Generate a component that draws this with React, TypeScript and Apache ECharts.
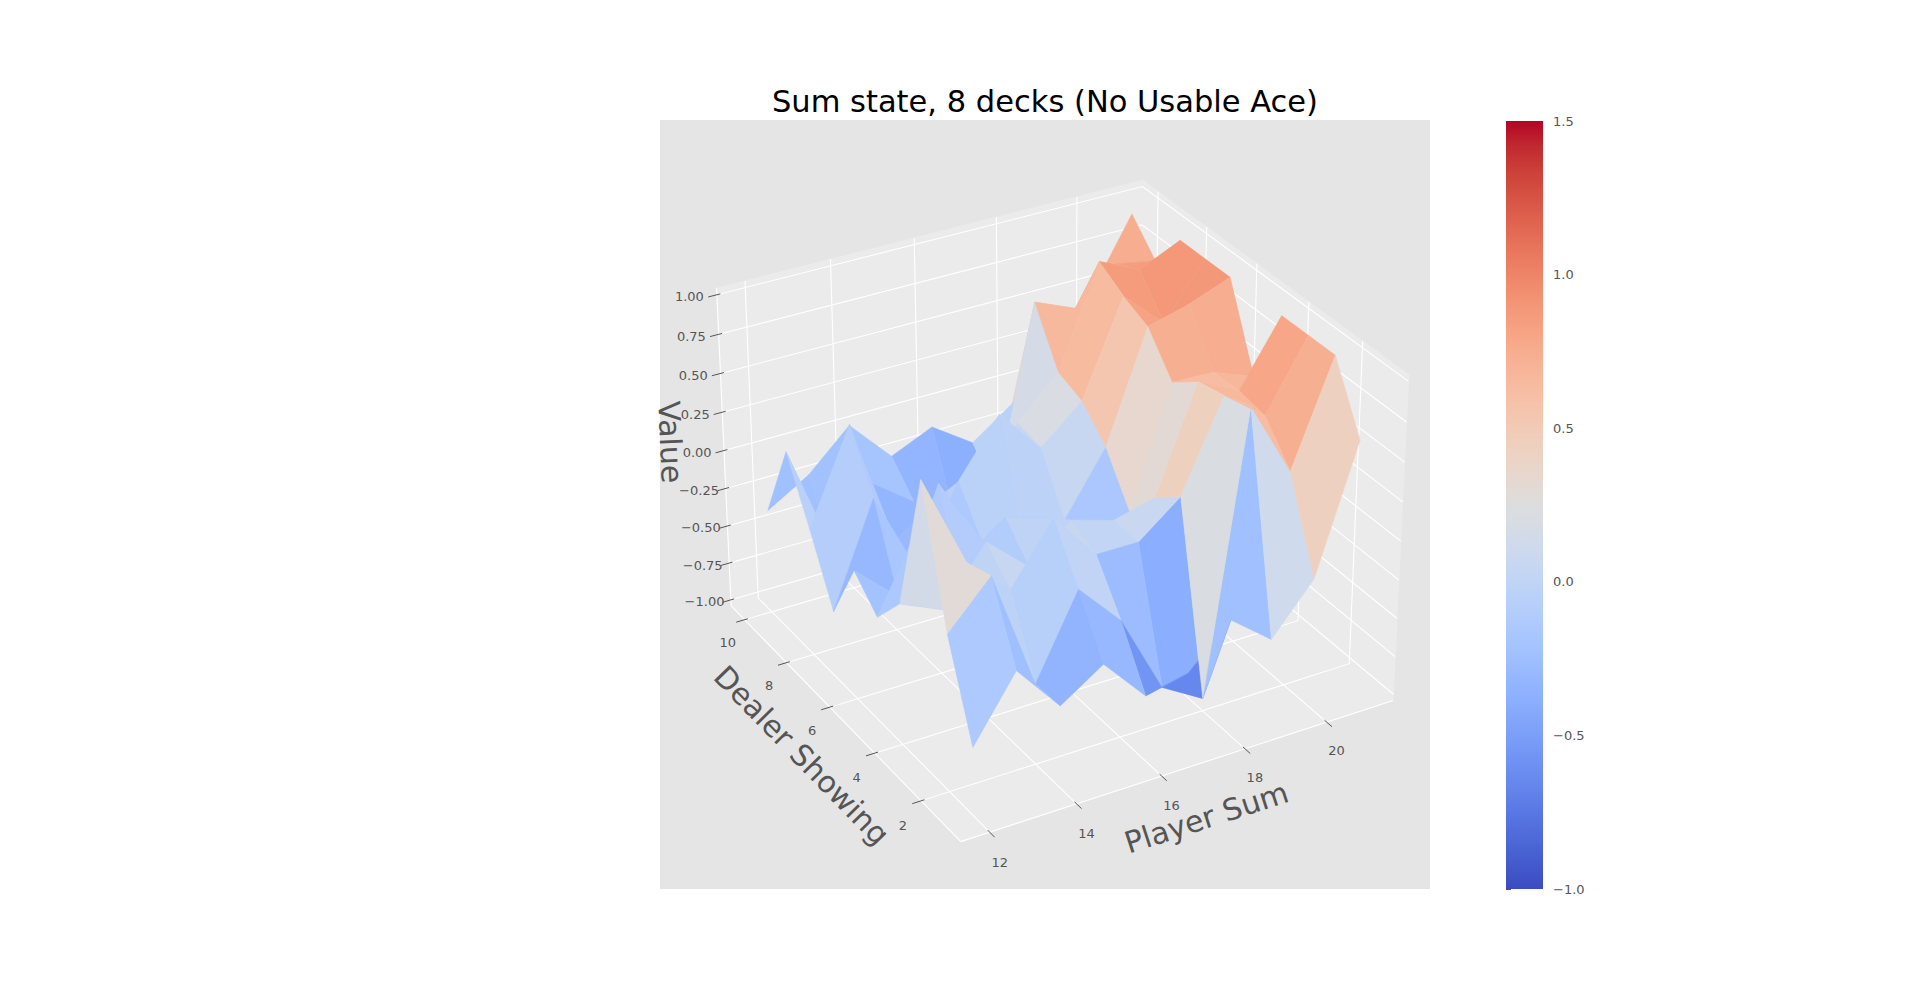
import React, { useEffect, useRef } from "react";
import * as echarts from "echarts";

const TITLE = "Sum state, 8 decks (No Usable Ace)";
const X_NAME = "Player Sum";
const Y_NAME = "Dealer Showing";
const Z_NAME = "Value";

const PLAYER_SUMS = [12, 13, 14, 15, 16, 17, 18, 19, 20, 21];
const DEALER_CARDS = [1, 2, 3, 4, 5, 6, 7, 8, 9, 10];
// state values: one row per dealer card, one column per player sum
const VALUES = [
  [-0.6, -0.2, -0.51, -0.33, -0.62, -0.56, -0.3, -0.51, -0.2, 0.6],
  [-0.03, 0.25, -0.52, 0.0, -0.28, -0.8, -0.96, 0.83, 0.35, 1.0],
  [0.78, 0.19, -0.06, 0.31, 0.0, 0.0, 0.21, 0.77, 0.57, 1.0],
  [-0.13, -0.25, 0.1, -0.14, 0.08, 0.0, 0.07, 0.73, 0.6, 1.0],
  [-0.36, 0.15, -0.4, 0.04, -0.04, -0.35, -0.16, 0.6, 0.59, 0.49],
  [-0.2, -0.45, 0.2, -0.25, -0.3, -0.27, 0.13, 0.83, 0.9, 1.0],
  [-0.61, 0.05, -0.5, 0.0, 0.36, 0.07, 0.3, 0.9, 0.66, 1.0],
  [-0.21, 0.39, -0.45, -0.25, -0.35, 0.1, 0.36, 1.0, 0.88, 1.0],
  [0.16, -0.55, -0.2, -0.4, -0.6, -0.5, 0.69, 0.58, 0.8, 0.75],
  [-0.36, -0.2, 0.05, -0.23, -0.11, -0.29, -0.1, 0.3, 0.5, 0.94],
];

const PLAYER_TICKS = [12, 14, 16, 18, 20];
const DEALER_TICKS = [2, 4, 6, 8, 10];
const VALUE_TICKS = [-1, -0.75, -0.5, -0.25, 0, 0.25, 0.5, 0.75, 1];
const COLOR_MIN = -1;
const COLOR_MAX = 1.5;
const COLOR_STEP = 0.5;

// matplotlib coolwarm, 33 samples
const COOLWARM = [
  [59, 76, 192], [68, 90, 204], [77, 104, 215], [87, 117, 225], [98, 130, 234],
  [108, 142, 241], [119, 154, 247], [130, 165, 251], [141, 176, 254], [152, 185, 255],
  [163, 194, 255], [174, 201, 253], [184, 208, 249], [194, 213, 244], [204, 217, 238],
  [213, 219, 230], [221, 221, 221], [229, 216, 209], [236, 211, 197], [241, 204, 185],
  [245, 196, 173], [247, 187, 160], [247, 177, 148], [247, 166, 135], [244, 154, 123],
  [241, 141, 111], [236, 127, 99], [229, 112, 88], [222, 96, 77], [213, 80, 66],
  [203, 62, 56], [192, 40, 47], [180, 4, 38],
];

const coolwarm = (t: number) => {
  const s = Math.min(1, Math.max(0, t)) * (COOLWARM.length - 1);
  const i = Math.min(COOLWARM.length - 2, Math.floor(s));
  const f = s - i;
  const c = COOLWARM[i].map((v, k) => Math.round(v + (COOLWARM[i + 1][k] - v) * f));
  return `rgb(${c[0]},${c[1]},${c[2]})`;
};

// 3d view, same maths as matplotlib's mplot3d
const ELEV = 30;
const AZIM = -120;
const DIST = 10;
const X_LIM = [11.55, 21.45];
const Y_LIM = [0.55, 10.45];
const Z_LIM = [-1, 1];
const ASPECT = [4, 4, 3].map((v) => v / 3.5);

const padded = (lim: number[]) => {
  const d = (lim[1] - lim[0]) / 48;
  return [lim[0] - d, lim[1] + d];
};
const X_BOX = padded(X_LIM);
const Y_BOX = padded(Y_LIM);
const Z_BOX = padded(Z_LIM);

const RAD = Math.PI / 180;
const EYE = [
  Math.cos(ELEV * RAD) * Math.cos(AZIM * RAD),
  Math.cos(ELEV * RAD) * Math.sin(AZIM * RAD),
  Math.sin(ELEV * RAD),
];
const ULEN = Math.hypot(EYE[0], EYE[1]);
const U = [-EYE[1] / ULEN, EYE[0] / ULEN, 0];
const V = [
  EYE[1] * U[2] - EYE[2] * U[1],
  EYE[2] * U[0] - EYE[0] * U[2],
  EYE[0] * U[1] - EYE[1] * U[0],
];
const dot = (a: number[], b: number[]) => a[0] * b[0] + a[1] * b[1] + a[2] * b[2];

const project = (x: number, y: number, z: number) => {
  const p = [
    ((x - X_LIM[0]) / (X_LIM[1] - X_LIM[0]) - 0.5) * ASPECT[0],
    ((y - Y_LIM[0]) / (Y_LIM[1] - Y_LIM[0]) - 0.5) * ASPECT[1],
    ((z - Z_LIM[0]) / (Z_LIM[1] - Z_LIM[0]) - 0.5) * ASPECT[2],
  ];
  const depth = DIST - dot(EYE, p);
  return [dot(U, p) / depth, dot(V, p) / depth, depth];
};

// projected window shown by the hidden 2d axes
const VIEW_X = [-0.0951923, 0.0899038];
const VIEW_Y = [-0.0947115, 0.0901442];

const FONT = '"DejaVu Sans"';
const TEXT_GREY = "#555555";
const PANE = "#EBEBEB";

// faces sorted far to near, like matplotlib's average z-sort
const buildFaces = () => {
  const faces: { value: number[]; depth: number }[] = [];
  for (let i = 0; i < DEALER_CARDS.length - 1; i++) {
    for (let j = 0; j < PLAYER_SUMS.length - 1; j++) {
      const corners = [
        [j, i],
        [j + 1, i],
        [j + 1, i + 1],
        [j, i + 1],
      ].map(([a, b]) => [PLAYER_SUMS[a], DEALER_CARDS[b], VALUES[b][a]]);
      const depth = corners.reduce((s, c) => s + project(c[0], c[1], c[2])[2], 0) / 4;
      faces.push({ value: corners.flat(), depth });
    }
  }
  faces.sort((a, b) => b.depth - a.depth);
  return faces.map((f) => f.value);
};

const fmtMinus = (s: string) => s.replace("-", "\u2212");

const textEl = (pos: number[], text: string, size: number, fill: string, rotation = 0) => ({
  type: "text",
  x: pos[0],
  y: pos[1],
  rotation,
  style: {
    text,
    fill,
    font: `${size}px ${FONT}`,
    textAlign: "center",
    textVerticalAlign: "middle",
    align: "center",
    verticalAlign: "middle",
  },
});

const axisAngle = (a: number[], b: number[]) => {
  let deg = (Math.atan2(-(b[1] - a[1]), b[0] - a[0]) * 180) / Math.PI;
  deg = (((deg + 180) % 180) + 180) % 180;
  if (deg > 90) deg -= 180;
  return deg * RAD;
};

const App: React.FC = () => {
  const chartRef = useRef<HTMLDivElement>(null);

  useEffect(() => {
    if (!chartRef.current) return;
    const chart = echarts.init(chartRef.current, undefined, { renderer: "svg" });

    const pt = (api: any, x: number, y: number, z: number) => {
      const p = project(x, y, z);
      return api.coord([p[0], p[1]]);
    };

    const renderBox = (_params: any, api: any) => {
      const [x0, x1] = X_BOX;
      const [y0, y1] = Y_BOX;
      const [z0, z1] = Z_BOX;
      const children: any[] = [];
      const pane = (pts: number[][]) => ({
        type: "polygon",
        shape: { points: pts },
        style: { fill: PANE, stroke: PANE, lineWidth: 1 },
      });
      children.push(pane([pt(api, x0, y0, z0), pt(api, x1, y0, z0), pt(api, x1, y1, z0), pt(api, x0, y1, z0)]));
      children.push(pane([pt(api, x0, y1, z0), pt(api, x1, y1, z0), pt(api, x1, y1, z1), pt(api, x0, y1, z1)]));
      children.push(pane([pt(api, x1, y0, z0), pt(api, x1, y1, z0), pt(api, x1, y1, z1), pt(api, x1, y0, z1)]));
      const gridLine = (pts: number[][]) => ({
        type: "polyline",
        shape: { points: pts },
        style: { stroke: "#ffffff", lineWidth: 1.1, fill: null },
      });
      PLAYER_TICKS.forEach((p) =>
        children.push(gridLine([pt(api, p, y0, z0), pt(api, p, y1, z0), pt(api, p, y1, z1)]))
      );
      DEALER_TICKS.forEach((d) =>
        children.push(gridLine([pt(api, x0, d, z0), pt(api, x1, d, z0), pt(api, x1, d, z1)]))
      );
      VALUE_TICKS.forEach((z) =>
        children.push(gridLine([pt(api, x0, y1, z), pt(api, x1, y1, z), pt(api, x1, y0, z)]))
      );
      // axis lines
      children.push(gridLine([pt(api, x0, y0, z0), pt(api, x1, y0, z0)]));
      children.push(gridLine([pt(api, x0, y0, z0), pt(api, x0, y1, z0)]));
      children.push(gridLine([pt(api, x0, y1, z0), pt(api, x0, y1, z1)]));
      return { type: "group", children };
    };

    const renderFace = (params: any, api: any) => {
      const pts: number[][] = [];
      let sum = 0;
      for (let k = 0; k < 4; k++) {
        const z = api.value(k * 3 + 2);
        sum += z;
        pts.push(pt(api, api.value(k * 3), api.value(k * 3 + 1), z));
      }
      const color = coolwarm((sum / 4 - COLOR_MIN) / (COLOR_MAX - COLOR_MIN));
      return {
        type: "polygon",
        z2: params.dataIndex,
        shape: { points: pts },
        style: { fill: color, stroke: color, lineWidth: 0.5 },
      };
    };

    const renderAxes = (_params: any, api: any) => {
      const [x0, x1] = X_BOX;
      const [y0, y1] = Y_BOX;
      const [z0, z1] = Z_BOX;
      const tickIn = 0.08;
      const tickOut = 0.2;
      const children: any[] = [];
      const tick = (a: number[], b: number[]) => ({
        type: "line",
        shape: { x1: a[0], y1: a[1], x2: b[0], y2: b[1] },
        style: { stroke: TEXT_GREY, lineWidth: 1 },
      });
      PLAYER_TICKS.forEach((p) => {
        children.push(tick(pt(api, p, y0 + tickIn, z0), pt(api, p, y0 - tickOut, z0)));
        children.push(textEl(pt(api, p, y0 - 0.4, z0 - 0.13), String(p), 13, TEXT_GREY));
      });
      DEALER_TICKS.forEach((d) => {
        children.push(tick(pt(api, x0 + tickIn, d, z0), pt(api, x0 - tickOut, d, z0)));
        children.push(textEl(pt(api, x0 - 0.425, d, z0 - 0.121), String(d), 13, TEXT_GREY));
      });
      VALUE_TICKS.forEach((z) => {
        children.push(tick(pt(api, x0 + tickIn, y1, z), pt(api, x0 - tickOut, y1, z)));
        children.push(textEl(pt(api, x0 - 0.53, y1 + 0.21, z), fmtMinus(z.toFixed(2)), 13, TEXT_GREY));
      });
      const xMid = (X_LIM[0] + X_LIM[1]) / 2;
      const yMid = (Y_LIM[0] + Y_LIM[1]) / 2;
      const zMid = (Z_LIM[0] + Z_LIM[1]) / 2;
      children.push(
        textEl(pt(api, xMid, y0 - 0.94, z0 - 0.17), X_NAME, 30, TEXT_GREY,
          axisAngle(pt(api, x0, y0, z0), pt(api, x1, y0, z0)))
      );
      children.push(
        textEl(pt(api, x0 - 0.93, yMid, z0 - 0.163), Y_NAME, 30, TEXT_GREY,
          axisAngle(pt(api, x0, y1, z0), pt(api, x0, y0, z0)))
      );
      children.push(
        textEl(pt(api, x0 - 0.825, y1 + 0.9, zMid), Z_NAME, 30, TEXT_GREY,
          axisAngle(pt(api, x0, y1, z0), pt(api, x0, y1, z1)))
      );
      return { type: "group", children };
    };

    const renderColorbar = (_params: any, api: any) => {
      const top = api.coord([0, COLOR_MAX]);
      const bottom = api.coord([1, COLOR_MIN]);
      return {
        type: "rect",
        shape: { x: top[0], y: top[1], width: bottom[0] - top[0], height: bottom[1] - top[1] },
        style: {
          fill: new echarts.graphic.LinearGradient(
            0, 1, 0, 0,
            COOLWARM.map((c, k) => ({ offset: k / (COOLWARM.length - 1), color: `rgb(${c[0]},${c[1]},${c[2]})` }))
          ),
        },
      };
    };

    const option: any = {
      animation: false,
      backgroundColor: "#ffffff",
      graphic: [
        {
          type: "text",
          x: 1045,
          y: 101,
          style: {
            text: TITLE,
            fill: "#000000",
            font: `30.5px ${FONT}`,
            textAlign: "center",
            textVerticalAlign: "middle",
            align: "center",
            verticalAlign: "middle",
          },
        },
      ],
      grid: [
        { left: 660, top: 120, width: 770, height: 769, show: true, backgroundColor: "#E5E5E5", borderWidth: 0 },
        { left: 1506, top: 121, width: 37, height: 768, show: false },
      ],
      xAxis: [
        { gridIndex: 0, type: "value", min: VIEW_X[0], max: VIEW_X[1], show: false },
        { gridIndex: 1, type: "value", min: 0, max: 1, show: false },
      ],
      yAxis: [
        { gridIndex: 0, type: "value", min: VIEW_Y[0], max: VIEW_Y[1], show: false },
        {
          gridIndex: 1,
          type: "value",
          position: "right",
          min: COLOR_MIN,
          max: COLOR_MAX,
          interval: COLOR_STEP,
          axisLine: { show: false },
          axisTick: { show: true, length: 5, lineStyle: { color: TEXT_GREY, width: 1 } },
          splitLine: { show: false },
          axisLabel: {
            margin: 10,
            color: TEXT_GREY,
            fontSize: 13,
            fontFamily: "DejaVu Sans",
            formatter: (v: number) => fmtMinus(v.toFixed(1)),
          },
        },
      ],
      series: [
        {
          type: "custom",
          xAxisIndex: 0,
          yAxisIndex: 0,
          silent: true,
          z: 1,
          renderItem: renderBox,
          data: [[0, 0]],
        },
        {
          type: "custom",
          xAxisIndex: 0,
          yAxisIndex: 0,
          silent: true,
          z: 2,
          renderItem: renderFace,
          data: buildFaces(),
        },
        {
          type: "custom",
          xAxisIndex: 0,
          yAxisIndex: 0,
          silent: true,
          z: 3,
          renderItem: renderAxes,
          data: [[0, 0]],
        },
        {
          type: "custom",
          xAxisIndex: 1,
          yAxisIndex: 1,
          silent: true,
          renderItem: renderColorbar,
          data: [[0, COLOR_MIN]],
        },
      ],
    };

    chart.setOption(option);
    return () => {
      chart.dispose();
    };
  }, []);

  return (
    <div
      ref={chartRef}
      style={{ position: "fixed", left: 0, top: 0, width: 1920, height: 1000, background: "#ffffff" }}
    />
  );
};

export default App;
